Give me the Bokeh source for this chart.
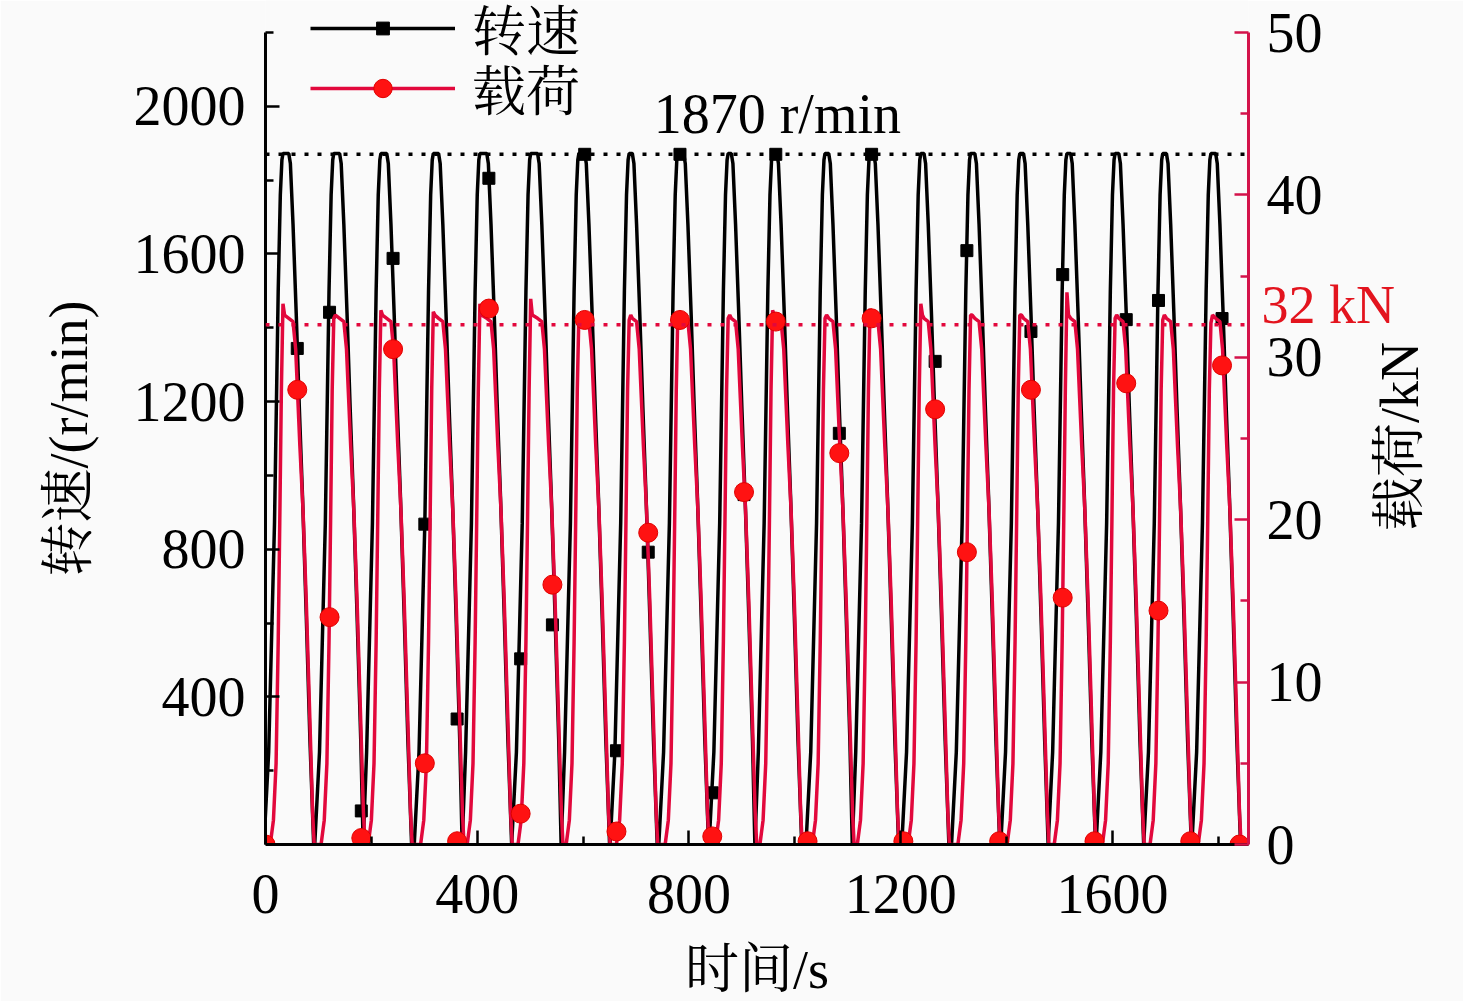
import math
from bokeh.plotting import figure
from bokeh.models import (Range1d, LinearAxis, FixedTicker, Span, Label,
                          Legend, LegendItem, ColumnDataSource)
from bokeh.embed import file_html
from bokeh.resources import INLINE

# ---------------- values ----------------
# time (s) at which each speed cycle reaches its top (1870 r/min)
cycle_peak_start = [31, 127, 216, 315, 403, 499, 590, 685, 777, 872,
                    956, 1055, 1140, 1236, 1330, 1423, 1512, 1603, 1693, 1784]
# length (s) of the flat top of each speed cycle
cycle_peak_len = [13, 13, 13, 12, 15, 15, 13, 8, 13, 8,
                  10, 9, 9, 8, 10, 9, 9, 9, 9, 11]
# speed rise, offsets (s) from the top start, and r/min
speed_rise_dt = [-34, -25, -14, -7, -3, 0, 2]
speed_rise_rpm = [0, 250, 870, 1500, 1760, 1855, 1872]
# speed fall, offsets (s) from the top end, and r/min
speed_fall_dt = [0, 3, 8, 14, 20, 26, 33, 40, 47]
speed_fall_rpm = [1872, 1845, 1680, 1440, 1180, 940, 620, 280, 0]
# load rise, offsets (s) from the speed top start, and kN (None = cycle peak)
load_rise_dt = [-22, -16, -11, -7, -4, -1, 2, 5]
load_rise_kn = [0, 1.5, 5, 12.5, 20, 28, None, 32.6]
# peak load of each cycle (kN)
load_peak_kn = [33.3, 32.4, 32.9, 32.8, 33.3, 33.6, 32.6, 32.3, 32.8, 32.4,
                32.9, 32.4, 33.0, 33.3, 32.6, 32.6, 34.0, 32.4, 32.3, 32.1]
# load fall, offsets (s) from the speed top end, and kN
load_fall_dt = [0, 8, 13, 17, 21, 27, 33, 40, 45, 48]
load_fall_kn = [32.4, 32.2, 30.5, 27.5, 24.5, 20.5, 15, 7.5, 2, 0]

# marker samples
mark_t = [0, 60, 121, 181, 241, 301, 362, 422, 482, 542, 603, 663, 723, 783,
          844, 904, 964, 1024, 1084, 1145, 1205, 1265, 1325, 1386, 1446,
          1506, 1566, 1626, 1687, 1747, 1807]
speed_mark_rpm = [0, 1344, 1442, 91, 1588, 868, 340, 1805, 503, 595, 1870,
                  254, 792, 1870, 140, 948, 1870, 0, 1114, 1870, 0, 1309,
                  1609, 0, 1390, 1544, 0, 1422, 1474, 0, 1425]
load_mark_t = mark_t + [1840]
load_mark_kn = [0, 28.0, 14.0, 0.4, 30.5, 5.0, 0.2, 33.0, 1.9, 16.0, 32.3,
                0.8, 19.2, 32.3, 0.5, 21.7, 32.2, 0.2, 24.1, 32.4, 0.2, 26.8,
                18.0, 0.2, 28.0, 15.2, 0.2, 28.4, 14.4, 0.2, 29.5, 0.0]

speed_ref = 1870
load_ref = 32
x_ticks = [0, 400, 800, 1200, 1600]
x_minor = [200, 600, 1000, 1400, 1800]
y_ticks = [400, 800, 1200, 1600, 2000]
y_minor = [200, 600, 1000, 1400, 1800, 2200]
y2_ticks = [0, 10, 20, 30, 40, 50]
y2_minor = [5, 15, 25, 35, 45]

# ---------------- build polylines from the read key points ----------------
def build(rise_dt, rise_v, fall_dt, fall_v, peaks=None):
    ts, vs = [], []
    for k, (S, L) in enumerate(zip(cycle_peak_start, cycle_peak_len)):
        rv = [peaks[k] if v is None else v for v in rise_v]
        cyc = [(S + d, v) for d, v in zip(rise_dt, rv)]
        cyc += [(S + L + d, v) for d, v in zip(fall_dt, fall_v)]
        if ts and cyc[0][0] < ts[-1]:
            tm = 0.5 * (cyc[0][0] + ts[-1])
            while ts and ts[-1] >= tm:
                ts.pop(); vs.pop()
            cyc = [c for c in cyc if c[0] > tm]
            ts.append(tm); vs.append(0)
        for t, v in cyc:
            ts.append(t); vs.append(v)
    return ts, vs

spd_t, spd_v = build(speed_rise_dt, speed_rise_rpm, speed_fall_dt, speed_fall_rpm)
ld_t, ld_v = build(load_rise_dt, load_rise_kn, load_fall_dt, load_fall_kn, load_peak_kn)

SERIF = "Liberation Serif, Noto Serif CJK SC, Noto Sans CJK SC, serif"
RED_LINE = "#E2083C"
RED_MARK = "#FF1212"
AXIS_RED = "#D3124A"
RED_TEXT = "#E3141E"
BG = "#FAFAFA"
FS = "54px"
FS_TICK = "56px"

# frame spans the canvas top so the legend (above the axes' tops) is drawn
FRAME_W, FRAME_H = 983, 844
PX_PER_RPM = 812 / 2200
PX_PER_KN = 812 / 50
p = figure(frame_width=FRAME_W, frame_height=FRAME_H,
           x_range=Range1d(0, 1857), y_range=Range1d(0, FRAME_H / PX_PER_RPM),
           output_backend="svg", toolbar_location=None,
           min_border_left=265, min_border_right=211,
           min_border_top=0, min_border_bottom=150,
           background_fill_color=BG, border_fill_color=BG,
           outline_line_color=None)
p.grid.visible = False
p.extra_y_ranges = {"load": Range1d(0, FRAME_H / PX_PER_KN)}

right = LinearAxis(y_range_name="load")
p.add_layout(right, "right")

xa = p.xaxis[0]
ya = p.yaxis[0]
xa.ticker = FixedTicker(ticks=x_ticks, minor_ticks=x_minor)
ya.ticker = FixedTicker(ticks=y_ticks, minor_ticks=y_minor)
right.ticker = FixedTicker(ticks=y2_ticks, minor_ticks=y2_minor)
ya.bounds = (0, 2200)
right.bounds = (0, 50)

def style_axis(ax):
    ax.axis_line_width = 3
    ax.major_tick_line_width = 2.5
    ax.minor_tick_line_width = 2.5
    ax.major_tick_in = 14
    ax.major_tick_out = 0
    ax.minor_tick_in = 8
    ax.minor_tick_out = 0
    ax.major_label_text_font = SERIF
    ax.major_label_text_font_size = FS_TICK
    ax.major_label_text_color = "black"
    ax.axis_label_text_font = SERIF
    ax.axis_label_text_font_size = FS
    ax.axis_label_text_font_style = "normal"
    ax.axis_label_text_color = "black"

for ax in (xa, ya, right):
    style_axis(ax)

xa.major_label_standoff = 30
ya.major_label_standoff = 20
right.major_label_standoff = 18
xa.axis_label = "时间/s"
xa.axis_label_standoff = 24
for prop in ("axis_line_color", "major_tick_line_color", "minor_tick_line_color"):
    setattr(right, prop, AXIS_RED)

# titles beside the vertical axes and the "32 kN" mark, written as tick
# labels of bare axes so they sit exactly where the picture has them
def bare_axis(side, tick, text, color, standoff, orient=None, rng="default"):
    ax = LinearAxis(y_range_name=rng,
                    ticker=FixedTicker(ticks=[tick], minor_ticks=[]),
                    major_label_overrides={tick: text})
    style_axis(ax)
    ax.axis_line_color = None
    ax.major_tick_line_color = None
    ax.minor_tick_line_color = None
    ax.major_label_text_font_size = FS
    ax.major_label_text_color = color
    ax.major_label_standoff = standoff
    if orient is not None:
        ax.major_label_orientation = orient
    p.add_layout(ax, side)
    return ax

bare_axis("right", 33.2, "32 kN", RED_TEXT, -64, rng="load")
bare_axis("right", 19.3, "载荷/kN", "black", 3, math.pi / 2, rng="load")
bare_axis("left", 1474, "转速/(r/min)", "black", 61, math.pi / 2)

# reference lines
p.add_layout(Span(location=speed_ref, dimension="width", line_color="black",
                  line_width=3.5, line_dash="4 9"))
p.add_layout(Span(location=load_ref, dimension="width", y_range_name="load",
                  line_color=RED_LINE, line_width=3.5, line_dash="4 9"))

# series
spd_src = ColumnDataSource(dict(t=spd_t, v=spd_v))
ld_src = ColumnDataSource(dict(t=ld_t, v=ld_v))
spd_m = ColumnDataSource(dict(t=mark_t, v=speed_mark_rpm))
ld_m = ColumnDataSource(dict(t=load_mark_t, v=load_mark_kn))

r_sl = p.line("t", "v", source=spd_src, line_color="black", line_width=3.5)
r_sm = p.scatter("t", "v", source=spd_m, marker="square", size=12,
                 fill_color="black", line_color="black")
r_ll = p.line("t", "v", source=ld_src, y_range_name="load",
              line_color=RED_LINE, line_width=3.5)
r_lm = p.scatter("t", "v", source=ld_m, y_range_name="load", marker="circle",
                 size=19, fill_color=RED_MARK, line_color="#E00000")

# annotation above the speed reference line
p.add_layout(Label(x=967, y=1978, text="1870 r/min", text_align="center",
                   text_baseline="middle", text_font=SERIF,
                   text_font_size=FS_TICK, text_color="black"))

# legends
def make_legend(label, rends, gh, loc):
    lg = Legend(items=[LegendItem(label=label, renderers=rends)],
                location=loc, glyph_width=145, glyph_height=gh,
                label_standoff=17, padding=0, margin=0, spacing=0,
                label_height=60, label_text_font=SERIF,
                label_text_font_size=FS, label_text_color="black",
                background_fill_alpha=0, border_line_alpha=0)
    p.add_layout(lg)

make_legend("转速", [r_sl, r_sm], 32, (45, 778))
make_legend("载荷", [r_ll, r_lm], 46, (45, 718))

open("out.html", "w").write(file_html(p, INLINE))
